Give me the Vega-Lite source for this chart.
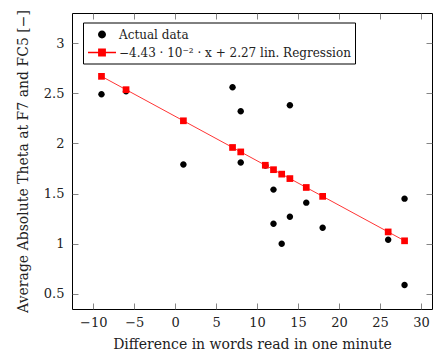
{
  "$schema": "https://vega.github.io/schema/vega-lite/v6.json",
  "width": 360,
  "height": 296,
  "autosize": {"type": "none"},
  "padding": {"left": 72, "top": 13, "right": 1, "bottom": 43},
  "background": "white",
  "config": {
    "view": {"stroke": "black", "strokeWidth": 1},
    "font": "DejaVu Serif",
    "axis": {
      "labelFont": "DejaVu Serif",
      "labelFontSize": 13,
      "labelColor": "#222",
      "titleFont": "DejaVu Serif",
      "titleFontSize": 14,
      "titleFontWeight": "normal",
      "titleColor": "#222",
      "domain": false,
      "grid": false,
      "tickSize": -6,
      "tickColor": "#666",
      "tickWidth": 0.8
    }
  },
  "datasets": {
    "actual": [
      {"x": -9, "y": 2.49, "series": "Actual data"},
      {"x": -6, "y": 2.52, "series": "Actual data"},
      {"x": 1, "y": 1.79, "series": "Actual data"},
      {"x": 7, "y": 2.56, "series": "Actual data"},
      {"x": 8, "y": 2.32, "series": "Actual data"},
      {"x": 8, "y": 1.81, "series": "Actual data"},
      {"x": 11, "y": 1.78, "series": "Actual data"},
      {"x": 12, "y": 1.54, "series": "Actual data"},
      {"x": 12, "y": 1.2, "series": "Actual data"},
      {"x": 13, "y": 1.0, "series": "Actual data"},
      {"x": 14, "y": 2.38, "series": "Actual data"},
      {"x": 14, "y": 1.27, "series": "Actual data"},
      {"x": 16, "y": 1.41, "series": "Actual data"},
      {"x": 18, "y": 1.16, "series": "Actual data"},
      {"x": 26, "y": 1.04, "series": "Actual data"},
      {"x": 28, "y": 1.45, "series": "Actual data"},
      {"x": 28, "y": 0.59, "series": "Actual data"}
    ],
    "regression": [
      {"x": -9, "y": 2.6687, "series": "−4.43 · 10⁻² · x + 2.27 lin. Regression"},
      {"x": -6, "y": 2.5358, "series": "−4.43 · 10⁻² · x + 2.27 lin. Regression"},
      {"x": 1, "y": 2.2257, "series": "−4.43 · 10⁻² · x + 2.27 lin. Regression"},
      {"x": 7, "y": 1.9599, "series": "−4.43 · 10⁻² · x + 2.27 lin. Regression"},
      {"x": 8, "y": 1.9156, "series": "−4.43 · 10⁻² · x + 2.27 lin. Regression"},
      {"x": 11, "y": 1.7827, "series": "−4.43 · 10⁻² · x + 2.27 lin. Regression"},
      {"x": 12, "y": 1.7384, "series": "−4.43 · 10⁻² · x + 2.27 lin. Regression"},
      {"x": 13, "y": 1.6941, "series": "−4.43 · 10⁻² · x + 2.27 lin. Regression"},
      {"x": 14, "y": 1.6498, "series": "−4.43 · 10⁻² · x + 2.27 lin. Regression"},
      {"x": 16, "y": 1.5612, "series": "−4.43 · 10⁻² · x + 2.27 lin. Regression"},
      {"x": 18, "y": 1.4726, "series": "−4.43 · 10⁻² · x + 2.27 lin. Regression"},
      {"x": 26, "y": 1.1182, "series": "−4.43 · 10⁻² · x + 2.27 lin. Regression"},
      {"x": 28, "y": 1.0296, "series": "−4.43 · 10⁻² · x + 2.27 lin. Regression"}
    ]
  },
  "layer": [
    {
      "data": {"name": "actual"},
      "mark": {"type": "point", "filled": true, "size": 196, "opacity": 1},
      "encoding": {
        "x": {
          "field": "x", "type": "quantitative",
          "scale": {"domain": [-12.6, 31.35], "nice": false, "zero": false},
          "axis": {"values": [-10, -5, 0, 5, 10, 15, 20, 25, 30], "title": "Difference in words read in one minute", "labelPadding": 13, "titlePadding": 8}
        },
        "y": {
          "field": "y", "type": "quantitative",
          "scale": {"domain": [0.35, 3.3], "nice": false, "zero": false},
          "axis": {"values": [0.5, 1, 1.5, 2, 2.5, 3], "format": "~g", "title": "Average Absolute Theta at F7 and FC5 [−]", "labelPadding": 14, "titlePadding": 13}
        },
        "shape": {
          "field": "series", "type": "nominal",
          "scale": {"domain": ["Actual data", "−4.43 · 10⁻² · x + 2.27 lin. Regression"], "range": ["M0.46,0A0.46,0.46 0 1,1 -0.46,0A0.46,0.46 0 1,1 0.46,0Z", "M-2,0H2M-0.45,-0.45H0.45V0.45H-0.45Z"]},
          "legend": null
        },
        "color": {
          "field": "series", "type": "nominal",
          "scale": {"domain": ["Actual data", "−4.43 · 10⁻² · x + 2.27 lin. Regression"], "range": ["black", "#ff0000"]},
          "legend": {
            "orient": "none", "legendX": 11, "legendY": 9.5, "title": null,
            "strokeColor": "black", "fillColor": "white", "padding": 4,
            "symbolSize": 196, "symbolOffset": 7, "labelOffset": 9, "rowPadding": 3,
            "labelFont": "DejaVu Serif", "labelFontSize": 12, "labelColor": "#222", "labelLimit": 400,
            "cornerRadius": 0,
            "encode": {
              "symbols": {
                "update": {
                  "shape": {"signal": "datum.value === 'Actual data' ? 'M0.42,0A0.42,0.42 0 1,1 -0.42,0A0.42,0.42 0 1,1 0.42,0Z' : 'M-2,0H2M-0.45,-0.45H0.45V0.45H-0.45Z'"},
                  "fill": {"signal": "datum.value === 'Actual data' ? 'black' : '#ff0000'"},
                  "stroke": {"signal": "datum.value === 'Actual data' ? 'black' : '#ff0000'"},
                  "strokeWidth": {"value": 1},
                  "opacity": {"value": 1}
                }
              }
            }
          }
        }
      }
    },
    {
      "data": {"name": "regression"},
      "mark": {"type": "line", "strokeWidth": 0.8, "point": {"shape": "square", "filled": true, "size": 45, "opacity": 1}},
      "encoding": {
        "x": {"field": "x", "type": "quantitative", "axis": {"orient": "top", "values": [-10, -5, 0, 5, 10, 15, 20, 25, 30], "labels": false, "title": null}},
        "y": {"field": "y", "type": "quantitative", "axis": {"orient": "right", "values": [0.5, 1, 1.5, 2, 2.5, 3], "labels": false, "title": null}},
        "color": {"field": "series", "type": "nominal", "legend": null}
      }
    }
  ],
  "resolve": {"axis": {"x": "independent", "y": "independent"}}
}
